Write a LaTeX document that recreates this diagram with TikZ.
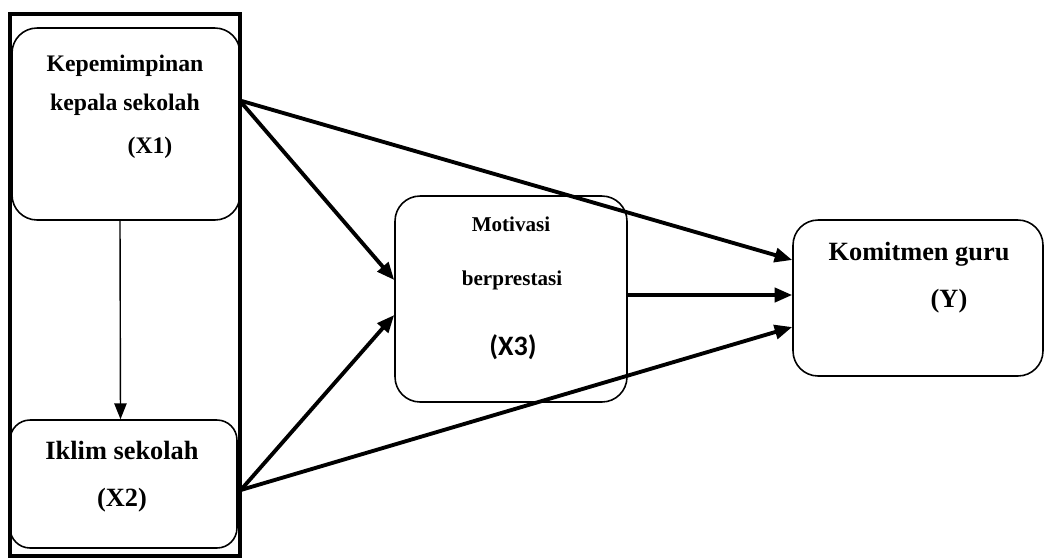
\documentclass[tikz,border=0pt]{standalone}
\usepackage{fontspec}
\setmainfont{Liberation Serif}
\newfontfamily\carlito{Carlito}
\usetikzlibrary{calc,arrows.meta}

\begin{document}
\begin{tikzpicture}[x=0.02cm, y=-0.02cm,
  box/.style={draw, line width=0.9pt, rounded corners=0.5cm},
  lbl/.style={inner sep=0pt, font=\bfseries\fontsize{#1}{16}\selectfont},
  link/.style={line width=2.2pt, -{Triangle[length=10pt, width=8pt]}}]
  \useasboundingbox (0,0) rectangle (1044,559);
  % frame round X1 and X2
  \draw[line width=2.2pt] (10,14) rectangle (240,556);
  \node[box, minimum width=4.56cm, minimum height=3.84cm] (x1) at (126,124) {};
  \node[box, rounded corners=0.4cm, minimum width=4.54cm, minimum height=2.56cm] (x2) at (123.5,484) {};
  \node[box, minimum width=4.64cm, minimum height=4.12cm] (x3) at (511,299) {};
  \node[box, minimum width=5cm, minimum height=3.12cm] (y) at (918,298) {};
  % labels
  \node[lbl=13.5] (x1a) at (125,66) {Kepemimpinan};
  \node[lbl=13.5] (x1b) at (125,105) {kepala sekolah};
  \node[lbl=13.5] (x1c) at (150,148) {(X1)};
  \node[lbl=15] (x2a) at (122,450) {Iklim sekolah};
  \node[lbl=15] (x2b) at (122,500) {(X2)};
  \node[lbl=12] (x3a) at (511,224) {Motivasi};
  \node[lbl=12] (x3b) at (512,280) {berprestasi};
  \node[inner sep=0pt, font=\carlito\bfseries\fontsize{16}{18}\selectfont] (x3c) at (513,347) {(X3)};
  \node[lbl=15] (ya) at (919,254) {Komitmen guru};
  \node[lbl=15] (yb) at (949,301) {(Y)};
  % paths
  \draw[line width=0.8pt, -{Triangle[length=9pt, width=7pt]}] ($(x1.south)+(-6,0)$) -- ($(x2.north)+(-3,0)$);
  \draw[link] ($(x1.east)+(1,-23)$) -- ($(y.west)+(0,-38)$);
  \draw[link] ($(x1.east)+(1,-21)$) -- ($(x3.west)+(0,-19)$);
  \draw[link] ($(x3.east)+(0,-4)$) -- ($(y.west)+(0,-3)$);
  \draw[link] ($(x2.east)+(3,6)$) -- ($(x3.west)+(0,16)$);
  \draw[link] ($(x2.east)+(3,6)$) -- ($(y.west)+(0,29)$);
\end{tikzpicture}
\end{document}
